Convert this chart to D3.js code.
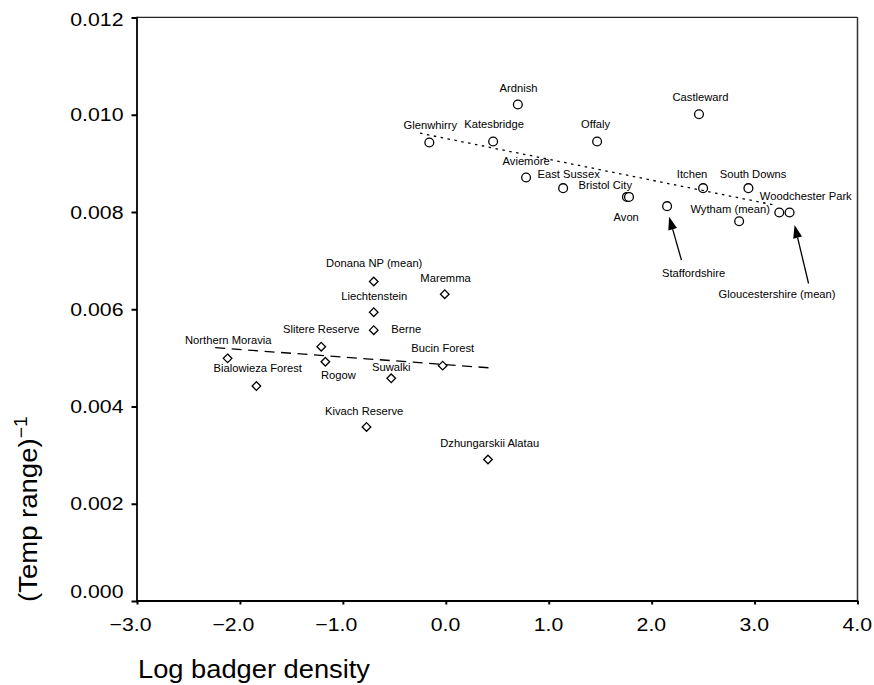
<!DOCTYPE html>
<html>
<head>
<meta charset="utf-8">
<script src="https://cdn.jsdelivr.net/npm/d3@7"></script>
<style>
  html, body { margin: 0; padding: 0; background: #fff; }
  svg { display: block; font-family: "Liberation Sans", Arial, Helvetica, sans-serif; }
</style>
</head>
<body>
<svg id="chart" width="874" height="685"></svg>
<script>
// ---------------- DATA ----------------
const ukSites = ["Ardnish", "Castleward", "Glenwhirry", "Katesbridge", "Offaly", "Aviemore",
  "East Sussex", "Bristol City", "Avon", "Staffordshire", "Itchen", "South Downs",
  "Wytham (mean)", "Woodchester Park", "Gloucestershire (mean)"];
const ukLogDensity = [0.70, 2.46, -0.16, 0.46, 1.47, 0.78, 1.14, 1.76, 1.78, 2.15, 2.50, 2.94, 2.85, 3.24, 3.34];
const ukInvTempRange = [0.01021, 0.01001, 0.00943, 0.00945, 0.00945, 0.00871, 0.00849, 0.00831, 0.00831,
  0.00812, 0.00849, 0.00849, 0.00781, 0.00799, 0.00799];

const euSites = ["Donana NP (mean)", "Maremma", "Liechtenstein", "Berne", "Slitere Reserve",
  "Northern Moravia", "Rogow", "Bucin Forest", "Suwalki", "Bialowieza Forest", "Kivach Reserve",
  "Dzhungarskii Alatau"];
const euLogDensity = [-0.70, -0.01, -0.70, -0.70, -1.21, -2.12, -1.17, -0.03, -0.53, -1.84, -0.77, 0.41];
const euInvTempRange = [0.00657, 0.00631, 0.00594, 0.00557, 0.00523, 0.00499, 0.00492, 0.00484,
  0.00458, 0.00442, 0.00358, 0.00291];

// fitted trend lines (end points)
const ukTrendX = [-0.25, 3.20];
const ukTrendY = [0.00962, 0.00814];
const euTrendX = [-2.24, 0.46];
const euTrendY = [0.00521, 0.00479];

const arrowSites = ["Staffordshire", "Gloucestershire (mean)"];

const xTicks = [-3, -2, -1, 0, 1, 2, 3, 4];
const yTicks = [0, 0.002, 0.004, 0.006, 0.008, 0.010, 0.012];
const xTickLabels = ["\u22123.0", "\u22122.0", "\u22121.0", "0.0", "1.0", "2.0", "3.0", "4.0"];
const yTickLabels = ["0.000", "0.002", "0.004", "0.006", "0.008", "0.010", "0.012"];
const xTitle = "Log badger density";
const yTitle = "(Temp range)";
const yTitleSup = "\u22121";

// ---------------- LAYOUT (label offsets in px, point -> label centre/baseline) ----------------
const ukLabelOffset = [[0.7,-12.6],[1.5,-13.3],[1,-13],[1,-13],[-1.5,-13],[0,-12.7],[5.5,-10.6],
  [-21.7,-8.4],[-2.8,24],[26.5,70.7],[-11,-10],[4.6,-10],[-9,-8.3],[26.5,-12.3],[-12.5,86]];
const euLabelOffset = [[0.5,-14.4],[0.8,-12.6],[0.5,-12.3],[32.5,3.3],[0,-13.4],[0.7,-14.3],
  [13,17.6],[0,-13.4],[0,-7.3],[1.3,-13.7],[-2.4,-11.7],[1.7,-12.6]];
const arrowOffset = { "Staffordshire": [[14.4, 54], [2, 10.5]],
                      "Gloucestershire (mean)": [[19, 71], [5, 12.5]] };

// ---------------- DRAW ----------------
(function () {
  const svg = d3.select("#chart");
  const mL = 137, mR = 857.5, mT = 17.5, mB = 601;
  const x = d3.scaleLinear().domain([-3, 4]).range([mL, mR]);
  const y = d3.scaleLinear().domain([0, 0.012]).range([mB, mT]);

  const SX = 1.12; // horizontal text stretch of the original

  function sText(parent, px, py, str, size, anchor, sx, rot) {
    const g = parent.append("g")
      .attr("transform", `translate(${px},${py})` + (rot ? ` rotate(${rot})` : "") + ` scale(${sx},1)`);
    return g.append("text").attr("x", 0).attr("y", 0)
      .attr("font-size", size).attr("text-anchor", anchor).attr("fill", "#000").text(str);
  }

  // frame (top and right)
  svg.append("line").attr("x1", mL).attr("x2", mR).attr("y1", mT - 0.2).attr("y2", mT - 0.2)
    .attr("stroke", "#222").attr("stroke-width", 1.3);
  svg.append("line").attr("x1", mR).attr("x2", mR).attr("y1", mT - 0.2).attr("y2", mB)
    .attr("stroke", "#333").attr("stroke-width", 1.5);

  // axes via d3
  const yAxis = d3.axisLeft(y).tickValues(yTicks).tickSize(5.5).tickFormat("");
  const gy = svg.append("g").attr("transform", `translate(${mL},0)`).call(yAxis);
  gy.select(".domain").attr("stroke", "#000").attr("stroke-width", 1.8).attr("d", `M0,${mT - 0.8}V${mB + 0.8}`);
  gy.selectAll(".tick line").attr("stroke", "#000").attr("stroke-width", 2);

  const xAxis = d3.axisBottom(x).tickValues(xTicks).tickSize(3.5).tickFormat("");
  const gx = svg.append("g").attr("transform", `translate(0,${mB})`).call(xAxis);
  gx.select(".domain").attr("stroke", "#000").attr("stroke-width", 1.8).attr("d", `M${mL - 0.8},0H${mR + 0.8}`);
  gx.selectAll(".tick line").attr("stroke", "#000").attr("stroke-width", 2);

  // tick labels
  yTicks.forEach((v, i) => {
    let by = y(v) + 6.5;
    if (i === 0) by = y(v) - 2.7;
    if (i === yTicks.length - 1) by = y(v) + 8.8;
    sText(svg, 123.5, by, yTickLabels[i], 19, "end", SX);
  });
  xTicks.forEach((v, i) => {
    sText(svg, x(v) + 14.5, 630.5, xTickLabels[i], 19, "end", SX);
  });

  // axis titles
  sText(svg, 138, 678.3, xTitle, 25.5, "start", 1.07);
  const yt = sText(svg, 37.3, 602, yTitle, 25.5, "start", 1.08, -90);
  yt.append("tspan").attr("font-size", 18).attr("dy", -10).text(yTitleSup);

  const ukData = ukSites.map((s, i) => ({ site: s, lx: ukLogDensity[i], ly: ukInvTempRange[i], off: ukLabelOffset[i] }));
  const euData = euSites.map((s, i) => ({ site: s, lx: euLogDensity[i], ly: euInvTempRange[i], off: euLabelOffset[i] }));

  // UK points (circles)
  svg.selectAll(".circ").data(ukData).enter().append("circle").attr("class", "circ")
    .attr("cx", d => x(d.lx)).attr("cy", d => y(d.ly)).attr("r", 4.4)
    .attr("fill", "#fff").attr("stroke", "#000").attr("stroke-width", 1.3);

  // European points (diamonds)
  const dr = 4.3;
  svg.selectAll(".diam").data(euData).enter().append("path").attr("class", "diam")
    .attr("d", d => {
      const cx = x(d.lx), cy = y(d.ly);
      return `M${cx},${cy - dr}L${cx + dr},${cy}L${cx},${cy + dr}L${cx - dr},${cy}Z`;
    })
    .attr("fill", "#fff").attr("stroke", "#000").attr("stroke-width", 1.3);

  // trend lines
  svg.append("line")
    .attr("x1", x(ukTrendX[0])).attr("y1", y(ukTrendY[0]))
    .attr("x2", x(ukTrendX[1])).attr("y2", y(ukTrendY[1]))
    .attr("stroke", "#000").attr("stroke-width", 1.3).attr("stroke-dasharray", "2.5,4.5");
  svg.append("line")
    .attr("x1", x(euTrendX[0])).attr("y1", y(euTrendY[0]))
    .attr("x2", x(euTrendX[1])).attr("y2", y(euTrendY[1]))
    .attr("stroke", "#000").attr("stroke-width", 1.3).attr("stroke-dasharray", "10,6.5");

  // labels
  ukData.concat(euData).forEach(d => {
    sText(svg, x(d.lx) + d.off[0], y(d.ly) + d.off[1], d.site, 10, "middle", SX);
  });

  // arrows
  arrowSites.forEach(s => {
    const i = ukSites.indexOf(s);
    const px = x(ukLogDensity[i]), py = y(ukInvTempRange[i]);
    const st = arrowOffset[s][0], tip = arrowOffset[s][1];
    const x1 = px + st[0], y1 = py + st[1], x2 = px + tip[0], y2 = py + tip[1];
    const ang = Math.atan2(y2 - y1, x2 - x1);
    const L = 13, W = 4.5;
    const bx = x2 - L * Math.cos(ang), by = y2 - L * Math.sin(ang);
    svg.append("line").attr("x1", x1).attr("y1", y1).attr("x2", bx).attr("y2", by)
      .attr("stroke", "#000").attr("stroke-width", 1.3);
    const p1 = [bx + W * Math.sin(ang), by - W * Math.cos(ang)];
    const p2 = [bx - W * Math.sin(ang), by + W * Math.cos(ang)];
    svg.append("path").attr("d", `M${x2},${y2}L${p1[0]},${p1[1]}L${p2[0]},${p2[1]}Z`).attr("fill", "#000");
  });
})();
</script>
</body>
</html>
